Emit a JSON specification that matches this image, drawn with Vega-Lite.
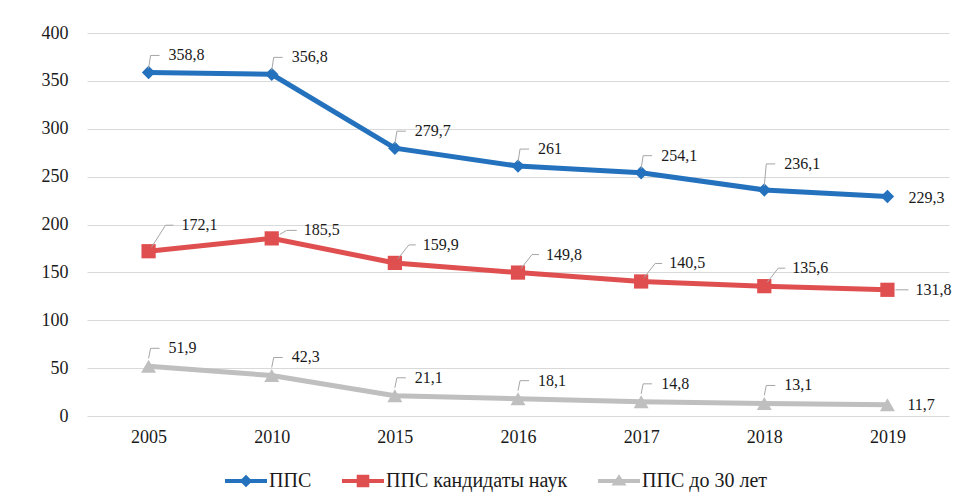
{
  "$schema": "https://vega.github.io/schema/vega-lite/v6.json",
  "autosize": "none",
  "width": 862,
  "height": 383,
  "padding": {"left": 87, "top": 33, "right": 20, "bottom": 77},
  "background": "white",
  "config": {
    "view": {"stroke": null},
    "font": "Liberation Serif",
    "locale": {"number": {"decimal": ",", "thousands": " ", "grouping": [3], "currency": ["", ""]}},
    "axis": {"labelFont": "Liberation Serif", "labelFontSize": 18, "labelColor": "#1a1a1a", "title": null, "domain": false, "ticks": false},
    "text": {"font": "Liberation Serif", "fontSize": 16, "color": "#1a1a1a", "align": "left", "baseline": "middle"}
  },
  "data": {"values": [
    {"year": 2005, "series": "ППС", "value": 358.8},
    {"year": 2010, "series": "ППС", "value": 356.8},
    {"year": 2015, "series": "ППС", "value": 279.7},
    {"year": 2016, "series": "ППС", "value": 261},
    {"year": 2017, "series": "ППС", "value": 254.1},
    {"year": 2018, "series": "ППС", "value": 236.1},
    {"year": 2019, "series": "ППС", "value": 229.3},
    {"year": 2005, "series": "ППС кандидаты наук", "value": 172.1},
    {"year": 2010, "series": "ППС кандидаты наук", "value": 185.5},
    {"year": 2015, "series": "ППС кандидаты наук", "value": 159.9},
    {"year": 2016, "series": "ППС кандидаты наук", "value": 149.8},
    {"year": 2017, "series": "ППС кандидаты наук", "value": 140.5},
    {"year": 2018, "series": "ППС кандидаты наук", "value": 135.6},
    {"year": 2019, "series": "ППС кандидаты наук", "value": 131.8},
    {"year": 2005, "series": "ППС до 30 лет", "value": 51.9},
    {"year": 2010, "series": "ППС до 30 лет", "value": 42.3},
    {"year": 2015, "series": "ППС до 30 лет", "value": 21.1},
    {"year": 2016, "series": "ППС до 30 лет", "value": 18.1},
    {"year": 2017, "series": "ППС до 30 лет", "value": 14.8},
    {"year": 2018, "series": "ППС до 30 лет", "value": 13.1},
    {"year": 2019, "series": "ППС до 30 лет", "value": 11.7}
  ]},
  "encoding": {
    "x": {"field": "year", "type": "ordinal", "scale": {"type": "point", "padding": 0.5},
          "axis": {"labelAngle": 0, "labelPadding": 12, "grid": false}},
    "y": {"field": "value", "type": "quantitative", "scale": {"domain": [0, 400]},
          "axis": {"values": [0, 50, 100, 150, 200, 250, 300, 350, 400], "grid": true, "gridColor": "#D9D9D9", "gridWidth": 1.2, "labelPadding": 19}}
  },
  "layer": [
    {
      "mark": {"type": "line", "strokeWidth": 5},
      "encoding": {
        "color": {"field": "series", "type": "nominal", "legend": null,
                  "scale": {"domain": ["ППС", "ППС кандидаты наук", "ППС до 30 лет"], "range": ["#2471BD", "#E04F4F", "#BFBFBF"]}}
      }
    },
    {
      "mark": {"type": "point", "filled": true, "opacity": 1, "strokeWidth": 0},
      "encoding": {
        "color": {"field": "series", "type": "nominal", "legend": null,
                  "scale": {"domain": ["ППС", "ППС кандидаты наук", "ППС до 30 лет"], "range": ["#2471BD", "#E04F4F", "#BFBFBF"]}},
        "shape": {"field": "series", "type": "nominal", "legend": null,
                  "scale": {"domain": ["ППС", "ППС кандидаты наук", "ППС до 30 лет"], "range": ["diamond", "square", "triangle-up"]}},
        "size": {"field": "series", "type": "nominal", "legend": null,
                 "scale": {"domain": ["ППС", "ППС кандидаты наук", "ППС до 30 лет"], "range": [180, 225, 300]}}
      }
    },
    {
      "transform": [{"filter": "datum.series === 'ППС' && datum.year < 2018"}],
      "mark": {"type": "point", "shape": "M0,-4L2,-17L11,-17", "size": 4, "filled": false, "color": "#A6A6A6", "strokeWidth": 1, "opacity": 1}
    },
    {
      "transform": [{"filter": "datum.series === 'ППС' && datum.year === 2018"}],
      "mark": {"type": "point", "shape": "M0,-4L2,-26L11,-26", "size": 4, "filled": false, "color": "#A6A6A6", "strokeWidth": 1, "opacity": 1}
    },
    {
      "transform": [{"filter": "datum.series === 'ППС кандидаты наук' && datum.year > 2010 && datum.year < 2019"}],
      "mark": {"type": "point", "shape": "M3,-4L14,-18L21,-18", "size": 4, "filled": false, "color": "#A6A6A6", "strokeWidth": 1, "opacity": 1}
    },
    {
      "transform": [{"filter": "datum.series === 'ППС кандидаты наук' && datum.year === 2005"}],
      "mark": {"type": "point", "shape": "M3,-4L17,-26L25,-26", "size": 4, "filled": false, "color": "#A6A6A6", "strokeWidth": 1, "opacity": 1}
    },
    {
      "transform": [{"filter": "datum.series === 'ППС кандидаты наук' && datum.year === 2010"}],
      "mark": {"type": "point", "shape": "M8,-4L15,-8L25,-8", "size": 4, "filled": false, "color": "#A6A6A6", "strokeWidth": 1, "opacity": 1}
    },
    {
      "transform": [{"filter": "datum.series === 'ППС кандидаты наук' && datum.year === 2019"}],
      "mark": {"type": "point", "shape": "M8,0L21,0", "size": 4, "filled": false, "color": "#A6A6A6", "strokeWidth": 1, "opacity": 1}
    },
    {
      "transform": [{"filter": "datum.series === 'ППС до 30 лет' && datum.year < 2019"}],
      "mark": {"type": "point", "shape": "M0,-8L2,-18L11,-18", "size": 4, "filled": false, "color": "#A6A6A6", "strokeWidth": 1, "opacity": 1}
    },
    {
      "transform": [{"filter": "datum.series === 'ППС' && datum.year < 2018"}],
      "mark": {"type": "text", "dx": 20, "dy": -17},
      "encoding": {"text": {"field": "value", "type": "quantitative", "format": ".1~f"}}
    },
    {
      "transform": [{"filter": "datum.series === 'ППС' && datum.year === 2018"}],
      "mark": {"type": "text", "dx": 20, "dy": -26},
      "encoding": {"text": {"field": "value", "type": "quantitative", "format": ".1~f"}}
    },
    {
      "transform": [{"filter": "datum.series === 'ППС' && datum.year === 2019"}],
      "mark": {"type": "text", "dx": 21, "dy": 2},
      "encoding": {"text": {"field": "value", "type": "quantitative", "format": ".1~f"}}
    },
    {
      "transform": [{"filter": "datum.series === 'ППС кандидаты наук' && datum.year > 2010 && datum.year < 2019"}],
      "mark": {"type": "text", "dx": 28, "dy": -18},
      "encoding": {"text": {"field": "value", "type": "quantitative", "format": ".1~f"}}
    },
    {
      "transform": [{"filter": "datum.series === 'ППС кандидаты наук' && datum.year === 2005"}],
      "mark": {"type": "text", "dx": 33, "dy": -26},
      "encoding": {"text": {"field": "value", "type": "quantitative", "format": ".1~f"}}
    },
    {
      "transform": [{"filter": "datum.series === 'ППС кандидаты наук' && datum.year === 2010"}],
      "mark": {"type": "text", "dx": 32, "dy": -8},
      "encoding": {"text": {"field": "value", "type": "quantitative", "format": ".1~f"}}
    },
    {
      "transform": [{"filter": "datum.series === 'ППС кандидаты наук' && datum.year === 2019"}],
      "mark": {"type": "text", "dx": 28, "dy": 0},
      "encoding": {"text": {"field": "value", "type": "quantitative", "format": ".1~f"}}
    },
    {
      "transform": [{"filter": "datum.series === 'ППС до 30 лет' && datum.year < 2019"}],
      "mark": {"type": "text", "dx": 20, "dy": -18},
      "encoding": {"text": {"field": "value", "type": "quantitative", "format": ".1~f"}}
    },
    {
      "transform": [{"filter": "datum.series === 'ППС до 30 лет' && datum.year === 2019"}],
      "mark": {"type": "text", "dx": 20, "dy": 0},
      "encoding": {"text": {"field": "value", "type": "quantitative", "format": ".1~f"}}
    },
    {
      "mark": {"type": "point", "filled": true, "opacity": 0, "size": 1764, "strokeWidth": 0},
      "encoding": {
        "color": {"field": "series", "type": "nominal",
                  "scale": {"domain": ["ППС", "ППС кандидаты наук", "ППС до 30 лет"], "range": ["#2471BD", "#E04F4F", "#BFBFBF"]},
                  "legend": {"title": null, "orient": "none", "direction": "horizontal", "legendX": 138, "legendY": 427, "padding": 0,
                             "symbolSize": 1764, "symbolOpacity": 1, "symbolStrokeWidth": 0, "labelFont": "Liberation Serif", "labelFontSize": 20,
                             "labelColor": "#1a1a1a", "labelOffset": 2, "columnPadding": 30, "labelLimit": 400}},
        "shape": {"field": "series", "type": "nominal",
                  "scale": {"domain": ["ППС", "ППС кандидаты наук", "ППС до 30 лет"],
                            "range": ["M-1,-0.1H1V0.1H-1Z M0,-0.3L0.3,0L0,0.3L-0.3,0Z",
                                      "M-1,-0.1H1V0.1H-1Z M-0.3,-0.3H0.3V0.3H-0.3Z",
                                      "M-1,-0.1H1V0.1H-1Z M0,-0.32L0.36,0.22L-0.36,0.22Z"]},
                  "legend": {"title": null, "orient": "none", "direction": "horizontal", "legendX": 138, "legendY": 427, "padding": 0,
                             "symbolSize": 1764, "symbolOpacity": 1, "symbolStrokeWidth": 0, "labelFont": "Liberation Serif", "labelFontSize": 20,
                             "labelColor": "#1a1a1a", "labelOffset": 2, "columnPadding": 30, "labelLimit": 400}}
      }
    }
  ],
  "resolve": {"scale": {"shape": "independent", "color": "independent", "size": "independent"}}
}
